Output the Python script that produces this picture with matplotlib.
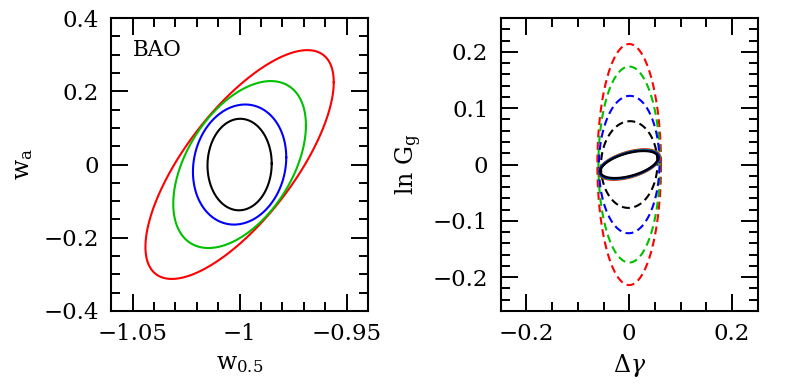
import numpy as np
import matplotlib
matplotlib.use('Agg')
import matplotlib.pyplot as plt
from matplotlib.ticker import MultipleLocator, FuncFormatter

plt.rcParams['font.family'] = ['DejaVu Serif']
plt.rcParams['mathtext.fontset'] = 'dejavuserif'

colors = ['#ff0000', '#00c000', '#0000ff', '#000000']

# left panel: BAO contours in (w_0.5, w_a), centred on (-1, 0)
bao_center = (-1.0, 0.0)
bao_sig_w05 = [0.044, 0.031, 0.0218, 0.015]
bao_sig_wa = [0.3125, 0.228, 0.164, 0.125]
bao_rho = [0.72, 0.47, 0.12, 0.02]

# right panel: (dgamma, ln G) contours, dashed = wide, solid = tight
dash_sig_dg = [0.062, 0.060, 0.059, 0.055]
dash_sig_lng = [0.214, 0.174, 0.122, 0.077]
dash_rho = [0.0, 0.0, 0.02, 0.03]
solid_sig_dg = [0.060, 0.059, 0.058, 0.056]
solid_sig_lng = [0.027, 0.026, 0.025, 0.024]
solid_rho = [0.5, 0.5, 0.5, 0.5]


def ellipse(sx, sy, rho, cx=0.0, cy=0.0, n=400):
    t = np.linspace(0, 2 * np.pi, n)
    x = cx + sx * np.cos(t)
    y = cy + sy * (rho * np.cos(t) + np.sqrt(1 - rho ** 2) * np.sin(t))
    return x, y


def fmt(v, pos):
    s = '%g' % (round(v, 6) + 0.0)
    return s.replace('-', '\u2212')


def style(ax, xmaj, xmin, ymaj, ymin):
    ax.xaxis.set_major_locator(MultipleLocator(xmaj))
    ax.xaxis.set_minor_locator(MultipleLocator(xmin))
    ax.yaxis.set_major_locator(MultipleLocator(ymaj))
    ax.yaxis.set_minor_locator(MultipleLocator(ymin))
    ax.xaxis.set_major_formatter(FuncFormatter(fmt))
    ax.yaxis.set_major_formatter(FuncFormatter(fmt))
    ax.tick_params(which='both', direction='in', top=True, right=True,
                   width=1.4, labelsize=16.5, pad=9)
    ax.tick_params(which='major', length=12)
    ax.tick_params(which='minor', length=6.5)
    for sp in ax.spines.values():
        sp.set_linewidth(1.5)


fig = plt.figure(figsize=(8, 3.9), dpi=100)
ax1 = fig.add_axes([0.139, 0.2026, 0.321, 0.751])
ax2 = fig.add_axes([0.626, 0.2026, 0.321, 0.751])

for c, sx, sy, r in zip(colors, bao_sig_w05, bao_sig_wa, bao_rho):
    x, y = ellipse(sx, sy, r, *bao_center)
    ax1.plot(x, y, color=c, lw=1.5)
ax1.set_xlim(-1.06, -0.94)
ax1.set_ylim(-0.4, 0.4)
style(ax1, 0.05, 0.01, 0.2, 0.05)
ax1.set_xlabel(r'$\mathrm{w}_{0.5}$', fontsize=17, labelpad=5)
ax1.set_ylabel(r'$\mathrm{w}_\mathrm{a}$', fontsize=17, labelpad=6)
ax1.text(0.085, 0.93, 'BAO', transform=ax1.transAxes, fontsize=15.5,
         va='top', ha='left')

for c, sx, sy, r in zip(colors, dash_sig_dg, dash_sig_lng, dash_rho):
    x, y = ellipse(sx, sy, r)
    ax2.plot(x, y, color=c, lw=1.5, linestyle=(0, (3.8, 2.2)))
for c, sx, sy, r in zip(colors, solid_sig_dg, solid_sig_lng, solid_rho):
    x, y = ellipse(sx, sy, r)
    ax2.plot(x, y, color=c, lw=1.6)
ax2.set_xlim(-0.25, 0.25)
ax2.set_ylim(-0.26, 0.26)
style(ax2, 0.2, 0.05, 0.1, 0.02)
ax2.set_xlabel(r'$\Delta\gamma$', fontsize=17, labelpad=5)
ax2.set_ylabel(r'$\mathrm{ln\ G_g}$', fontsize=17, labelpad=6)

fig.savefig('out.png', dpi=100)
